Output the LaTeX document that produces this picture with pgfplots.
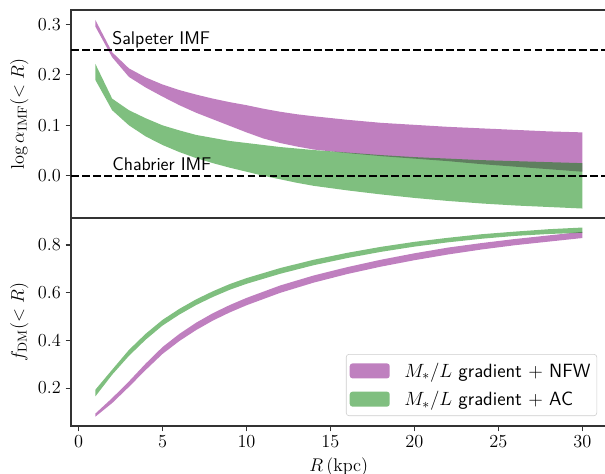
\RequirePackage{fix-cm}
\documentclass[border=0pt]{standalone}
\usepackage{pgfplots}
\usepackage{pgfplotstable}
\pgfplotsset{compat=1.18}
\usepgfplotslibrary{fillbetween}
\definecolor{mplpurple}{RGB}{128,0,128}
\definecolor{mplgreen}{RGB}{0,128,0}
\definecolor{legpurple}{RGB}{191,128,191}
\definecolor{leggreen}{RGB}{128,191,128}
\definecolor{spine}{gray}{0.2}

\pgfplotstableread{
R pu pl gu gl
1 0.309 0.296 0.222 0.190
2 0.245 0.235 0.153 0.130
3 0.213 0.196 0.130 0.100
4 0.195 0.175 0.114 0.078
5 0.181 0.157 0.100 0.061
6 0.170 0.140 0.090 0.047
7 0.161 0.125 0.081 0.035
8 0.153 0.112 0.075 0.025
9 0.146 0.099 0.069 0.016
10 0.140 0.086 0.065 0.008
11 0.133 0.074 0.061 0.000
12 0.127 0.065 0.057 -0.007
13 0.122 0.058 0.054 -0.014
14 0.118 0.052 0.051 -0.020
16 0.111 0.045 0.046 -0.029
18 0.105 0.039 0.041 -0.037
20 0.101 0.034 0.037 -0.044
22 0.097 0.029 0.034 -0.050
24 0.094 0.023 0.031 -0.055
26 0.091 0.018 0.029 -0.059
28 0.088 0.013 0.027 -0.062
30 0.086 0.008 0.025 -0.065
}\toptable

\pgfplotstableread{
R pu pl gu gl
1 0.093 0.080 0.193 0.165
2 0.158 0.137 0.277 0.256
3 0.228 0.205 0.360 0.335
4 0.303 0.276 0.428 0.403
5 0.372 0.343 0.486 0.462
6 0.427 0.397 0.532 0.508
7 0.474 0.443 0.572 0.548
8 0.514 0.483 0.606 0.582
9 0.548 0.517 0.636 0.612
10 0.578 0.547 0.661 0.637
12 0.630 0.599 0.703 0.679
14 0.672 0.642 0.738 0.715
16 0.707 0.678 0.767 0.745
18 0.738 0.709 0.792 0.771
20 0.765 0.736 0.813 0.793
22 0.789 0.760 0.830 0.811
24 0.808 0.781 0.845 0.826
26 0.825 0.799 0.856 0.838
28 0.840 0.814 0.866 0.846
30 0.855 0.829 0.873 0.851
}\bottable

\newcommand{\figfont}{\fontsize{13.2}{15.8}\selectfont}
\pgfplotsset{
  myaxis/.style={
    scale only axis, width=385.7pt, height=149.76pt,
    xmin=-0.45, xmax=31.45,
    font=\figfont,
    axis line style={spine, line width=0.8pt},
    tick style={spine, line width=0.8pt},
    tick align=outside, major tick length=3.8pt,
    tick pos=left,
    yticklabel style={/pgf/number format/.cd, fixed, fixed zerofill, precision=1},
    ylabel style={font=\figfont},
    xlabel style={font=\figfont},
  },
  hline/.style={black, line width=1.5pt, dash pattern=on 5.55pt off 2.4pt},
}

\begin{document}
\begin{tikzpicture}
\begin{axis}[myaxis, at={(0pt,0pt)}, anchor=south west,
  ymin=-0.0838, ymax=0.3288, ytick={0,0.1,0.2,0.3}, xtick=\empty,
  ylabel={$\log\alpha_{\rm IMF}(<R)$}]
\addplot[name path=tpu, draw=none, forget plot] table[x=R,y=pu]{\toptable};
\addplot[name path=tpl, draw=none, forget plot] table[x=R,y=pl]{\toptable};
\addplot[fill=mplpurple, fill opacity=0.5, draw=none, forget plot] fill between[of=tpu and tpl];
\addplot[name path=tgu, draw=none, forget plot] table[x=R,y=gu]{\toptable};
\addplot[name path=tgl, draw=none, forget plot] table[x=R,y=gl]{\toptable};
\addplot[fill=mplgreen, fill opacity=0.5, draw=none, forget plot] fill between[of=tgu and tgl];
\addplot[hline, forget plot] coordinates {(-0.45,0.25) (31.45,0.25)};
\addplot[hline, forget plot] coordinates {(-0.45,0) (31.45,0)};
\node[anchor=base west, inner sep=0pt, font=\figfont\sffamily] at (axis cs:2,0.26) {Salpeter IMF};
\node[anchor=base west, inner sep=0pt, font=\figfont\sffamily] at (axis cs:2,0.01) {Chabrier IMF};
\end{axis}

\begin{axis}[myaxis, at={(0pt,0pt)}, anchor=north west,
  ymin=0.041, ymax=0.913, ytick={0.2,0.4,0.6,0.8},
  xtick={0,5,...,30},
  xlabel={$R\,({\rm kpc})$},
  ylabel={$f_{\rm DM}(<R)$},
  legend cell align=left,
  legend image code/.code={\fill[#1] (0pt,-5.4pt) rectangle (28.8pt,5.4pt);},
  legend style={at={(0.982,0.048)}, anchor=south east, draw=black!20,
    rounded corners=2pt, fill=white, font=\fontsize{13.8}{16.5}\selectfont,
    row sep=4.5pt, inner xsep=2.5pt, inner ysep=4pt,
    /tikz/every odd column/.append style={column sep=8.5pt}}]
\addplot[name path=bpu, draw=none, forget plot] table[x=R,y=pu]{\bottable};
\addplot[name path=bpl, draw=none, forget plot] table[x=R,y=pl]{\bottable};
\addplot[fill=mplpurple, fill opacity=0.5, draw=none, forget plot] fill between[of=bpu and bpl];
\addplot[name path=bgu, draw=none, forget plot] table[x=R,y=gu]{\bottable};
\addplot[name path=bgl, draw=none, forget plot] table[x=R,y=gl]{\bottable};
\addplot[fill=mplgreen, fill opacity=0.5, draw=none, forget plot] fill between[of=bgu and bgl];
\addlegendimage{fill=legpurple, draw=none}
\addlegendentry{$M_*/L$ \textsf{gradient} $+$ \textsf{NFW}}
\addlegendimage{fill=leggreen, draw=none}
\addlegendentry{$M_*/L$ \textsf{gradient} $+$ \textsf{AC}}
\end{axis}
\pgfresetboundingbox
\path[use as bounding box] (-51.12pt,156.96pt) rectangle (384.48pt,-184.32pt);
\end{tikzpicture}
\end{document}
